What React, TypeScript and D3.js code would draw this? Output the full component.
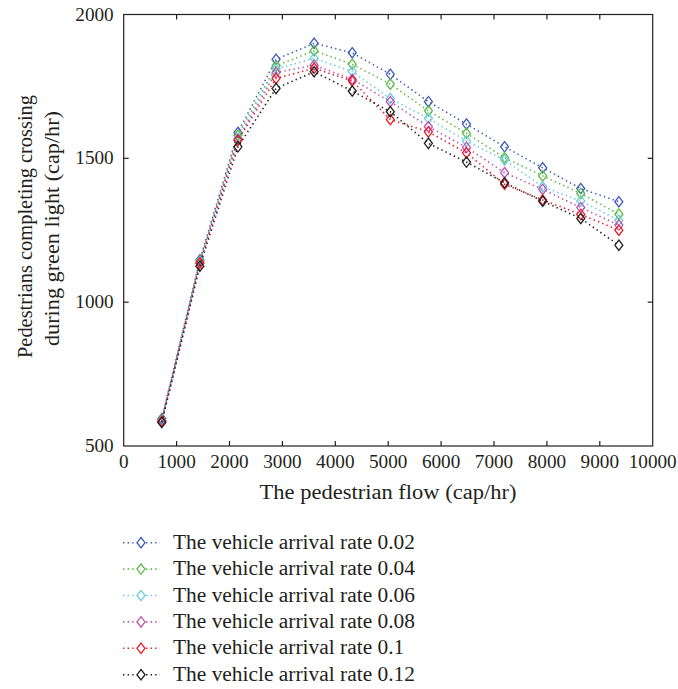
import React, { useEffect, useRef } from 'react';
import * as d3 from 'd3';

const flow = [720, 1440, 2160, 2880, 3600, 4320, 5040, 5760, 6480, 7200, 7920, 8640, 9360];
const rate002 = [595, 1147, 1590, 1844, 1900, 1867, 1792, 1697, 1619, 1540, 1467, 1395, 1349];
const rate004 = [590, 1143, 1580, 1821, 1874, 1827, 1758, 1665, 1587, 1502, 1439, 1378, 1306];
const rate006 = [588, 1140, 1570, 1810, 1848, 1802, 1708, 1639, 1560, 1494, 1401, 1352, 1285];
const rate008 = [587, 1138, 1565, 1798, 1824, 1775, 1697, 1610, 1538, 1450, 1392, 1329, 1268];
const rate010 = [585, 1135, 1563, 1778, 1813, 1769, 1635, 1592, 1519, 1410, 1355, 1305, 1250];
const rate012 = [582, 1125, 1540, 1743, 1801, 1734, 1662, 1552, 1487, 1415, 1351, 1291, 1198];
const seriesNames = [
  'The vehicle arrival rate 0.02',
  'The vehicle arrival rate 0.04',
  'The vehicle arrival rate 0.06',
  'The vehicle arrival rate 0.08',
  'The vehicle arrival rate 0.1',
  'The vehicle arrival rate 0.12',
];
const xTicks = [0, 1000, 2000, 3000, 4000, 5000, 6000, 7000, 8000, 9000, 10000];
const yTicks = [500, 1000, 1500, 2000];

const colors = ['#3d5cb8', '#5dbb46', '#6dcde0', '#b954b4', '#ec1c24', '#231f20'];
const FONT = '"Liberation Serif", "Times New Roman", serif';

export default function App() {
  const ref = useRef<SVGSVGElement>(null);

  useEffect(() => {
    if (!ref.current) return;
    const svg = d3.select(ref.current);
    svg.selectAll('*').remove();

    const left = 123.7, right = 652.7, top = 14.5, bottom = 446;
    const x = d3.scaleLinear().domain([0, 10000]).range([left, right]);
    const y = d3.scaleLinear().domain([500, 2000]).range([bottom, top]);
    const all = [rate002, rate004, rate006, rate008, rate010, rate012];

    const diamond = (cx: number, cy: number) =>
      `M${cx},${cy - 5.2}L${cx + 4},${cy}L${cx},${cy + 5.2}L${cx - 4},${cy}Z`;

    // box + inward ticks
    const axisG = svg.append('g').attr('stroke', '#231f20').attr('stroke-width', 1.2).attr('fill', 'none');
    axisG.append('rect').attr('x', left).attr('y', top).attr('width', right - left).attr('height', bottom - top);
    xTicks.slice(1, -1).forEach(t => {
      axisG.append('line').attr('x1', x(t)).attr('x2', x(t)).attr('y1', bottom).attr('y2', bottom - 5);
      axisG.append('line').attr('x1', x(t)).attr('x2', x(t)).attr('y1', top).attr('y2', top + 5);
    });
    yTicks.slice(1, -1).forEach(t => {
      axisG.append('line').attr('x1', left).attr('x2', left + 5).attr('y1', y(t)).attr('y2', y(t));
      axisG.append('line').attr('x1', right).attr('x2', right - 5).attr('y1', y(t)).attr('y2', y(t));
    });

    const txt = svg.append('g').attr('font-family', FONT).attr('fill', '#231f20');
    xTicks.forEach(t => {
      txt.append('text').attr('x', x(t)).attr('y', bottom + 22).attr('text-anchor', 'middle')
        .attr('font-size', 18).attr('textLength', String(t).length * 9.6).attr('lengthAdjust', 'spacingAndGlyphs').text(t);
    });
    yTicks.forEach(t => {
      txt.append('text').attr('x', left - 10).attr('y', y(t) + 6).attr('text-anchor', 'end')
        .attr('font-size', 18).attr('textLength', String(t).length * 9.6).attr('lengthAdjust', 'spacingAndGlyphs').text(t);
    });
    txt.append('text').attr('x', 388).attr('y', bottom + 53).attr('text-anchor', 'middle')
      .attr('font-size', 20).attr('textLength', 257).attr('lengthAdjust', 'spacingAndGlyphs').text('The pedestrian flow (cap/hr)');
    const yl = txt.append('text').attr('transform', `translate(0,226) rotate(-90)`).attr('font-size', 20);
    yl.append('tspan').attr('x', -132).attr('y', 32).attr('textLength', 263).attr('lengthAdjust', 'spacingAndGlyphs')
      .text('Pedestrians completing crossing');
    yl.append('tspan').attr('x', -120).attr('y', 59).attr('textLength', 235).attr('lengthAdjust', 'spacingAndGlyphs')
      .text('during green light (cap/hr)');

    const line = d3.line<number>().x((_, i) => x(flow[i])).y(d => y(d));

    all.forEach((vals, s) => {
      const g = svg.append('g');
      g.append('path').datum(vals).attr('d', line).attr('fill', 'none').attr('stroke', colors[s])
        .attr('stroke-width', 1.6).attr('stroke-dasharray', '1.4,3.2');
      g.selectAll('path.m').data(vals).enter().append('path').attr('class', 'm')
        .attr('d', (d, i) => diamond(x(flow[i]), y(d)))
        .attr('fill', 'none').attr('stroke', colors[s]).attr('stroke-width', 1.3);
    });

    // legend
    const lg = svg.append('g');
    let k = 1;
    seriesNames.forEach((name, s) => {
      const cy = 542.7 + s * 26.4;
      lg.append('line').attr('x1', 123).attr('x2', 160).attr('y1', cy).attr('y2', cy)
        .attr('stroke', colors[s]).attr('stroke-width', 1.6).attr('stroke-dasharray', '1.4,3.2');
      lg.append('path').attr('d', diamond(141, cy)).attr('fill', '#fff').attr('stroke', colors[s]).attr('stroke-width', 1.3);
      const t = lg.append('text').attr('x', 173).attr('y', cy + 6).attr('font-family', FONT).attr('font-size', 20)
        .attr('fill', '#231f20').text(name);
      const w = (t.node() as SVGTextElement).getComputedTextLength();
      if (s === 0) k = 242 / w;
      t.attr('textLength', w * k).attr('lengthAdjust', 'spacingAndGlyphs');
    });
  }, []);

  return (
    <svg ref={ref} width={678} height={689} style={{ position: 'absolute', left: 0, top: 0, background: '#fff' }} />
  );
}
